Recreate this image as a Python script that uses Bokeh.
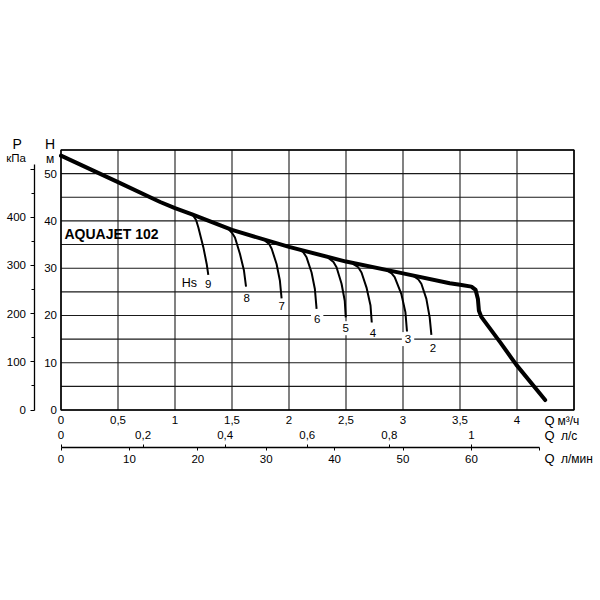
from bokeh.plotting import figure
from bokeh.models import LinearAxis, Range1d, FixedTicker, ColumnDataSource
from bokeh.embed import file_html
from bokeh.resources import INLINE
from bokeh.core.properties import value

FONT = "Liberation Sans"
KPA_PER_M = 9.81          # 1 m of water column in kPa
LS_PER_M3H = 1 / 3.6      # l/s per m3/h
LMIN_PER_M3H = 1000 / 60  # l/min per m3/h

# ---- data ----
# main pump curve: Q (m3/h) -> H (m)
q_main = [0.0, 0.5, 0.87, 1.0, 1.15, 1.5, 2.0, 2.5, 3.0, 3.41, 3.5, 3.6, 3.637, 3.657, 3.666, 3.687, 3.85, 3.993, 4.247]
h_main = [53.8, 48.2, 44.0, 42.7, 41.4, 38.1, 34.5, 31.4, 28.9, 26.8, 26.5, 26.1, 25.4, 23.5, 21.0, 19.7, 14.4, 9.6, 2.1]

# suction-lift curves Hs (m)
hs_names = ["9", "8", "7", "6", "5", "4", "3", "2"]
hs_q = [
    [1.147, 1.185, 1.205, 1.249, 1.278, 1.292],
    [1.468, 1.505, 1.526, 1.570, 1.605, 1.623],
    [1.789, 1.826, 1.848, 1.891, 1.920, 1.935],
    [2.081, 2.125, 2.154, 2.198, 2.227, 2.242],
    [2.343, 2.390, 2.417, 2.461, 2.489, 2.498],
    [2.562, 2.607, 2.636, 2.680, 2.715, 2.726],
    [2.855, 2.900, 2.927, 2.986, 3.021, 3.035],
    [3.088, 3.135, 3.161, 3.205, 3.234, 3.249],
]
hs_h = [
    [41.6, 40.2, 38.6, 34.4, 30.9, 28.6],
    [38.3, 37.3, 36.5, 33.0, 29.5, 26.1],
    [35.8, 35.1, 34.1, 30.9, 27.4, 23.6],
    [34.1, 33.4, 32.3, 29.1, 25.6, 21.4],
    [32.2, 31.3, 30.2, 26.7, 23.1, 19.6],
    [30.9, 30.2, 29.1, 25.9, 22.1, 18.5],
    [29.6, 28.9, 28.1, 24.5, 20.7, 16.6],
    [28.4, 27.6, 26.7, 23.5, 19.6, 15.9],
]
hs_label_q = [1.292, 1.628, 1.935, 2.247, 2.498, 2.737, 3.044, 3.263]
hs_label_h = [26.6, 23.6, 21.9, 19.3, 17.3, 16.3, 15.0, 13.2]

# axes ticks / labels
Q_MAX, H_MAX = 4.5, 55
h_ticks = [0, 10, 20, 30, 40, 50]
p_ticks = [0, 100, 200, 300, 400, 500]
p_minor = [50, 150, 250, 350, 450]
p_labels = ["0", "100", "200", "300", "400", ""]
m3h_ticks = [0, 0.5, 1, 1.5, 2, 2.5, 3, 3.5, 4]
m3h_labels = ["0", "0,5", "1", "1,5", "2", "2,5", "3", "3,5", "4"]
ls_ticks = [0, 0.2, 0.4, 0.6, 0.8, 1]
ls_labels = ["0", "0,2", "0,4", "0,6", "0,8", "1"]
lmin_ticks = [0, 10, 20, 30, 40, 50, 60, 70]
lmin_labels = ["0", "10", "20", "30", "40", "50", "60", ""]
grid_x = [0, 0.5, 1, 1.5, 2, 2.5, 3, 3.5, 4, 4.5]
grid_y = [0, 5, 10, 15, 20, 25, 30, 35, 40, 45, 50, 55]

# ---- layout: the frame fills the canvas; grid box placed by the ranges ----
W = H = 600
X0_PX, X_SCALE = 60.5, 114.0     # px of Q=0, px per m3/h
Y0_PX, Y_SCALE = 409.5, 4.727    # px of H=0, px per m
TICK_FONT = "11.5px"


def qx(px):
    return (px - X0_PX) / X_SCALE


def hy(py):
    return (Y0_PX - py) / Y_SCALE


xr = (qx(0), qx(W))
yr = (hy(H), hy(0))

p = figure(width=W, height=H, min_border=0,
           x_range=Range1d(*xr), y_range=Range1d(*yr),
           x_axis_location=None, y_axis_location=None,
           output_backend="svg", toolbar_location=None)
p.grid.visible = False
p.outline_line_color = None
p.background_fill_color = "white"
p.border_fill_color = "white"
p.extra_y_ranges = {"kpa": Range1d(yr[0] * KPA_PER_M, yr[1] * KPA_PER_M)}
p.extra_x_ranges = {"ls": Range1d(xr[0] * LS_PER_M3H, xr[1] * LS_PER_M3H),
                    "lmin": Range1d(xr[0] * LMIN_PER_M3H, xr[1] * LMIN_PER_M3H)}


def style_axis(ax, size=TICK_FONT):
    ax.major_label_text_font = FONT
    ax.major_label_text_font_size = size
    ax.major_label_text_color = "black"
    ax.axis_line_color = "black"
    ax.major_tick_line_color = "black"
    ax.minor_tick_line_color = "black"


# H axis (labels only, at Q=0)
h_axis = LinearAxis(fixed_location=0, ticker=FixedTicker(ticks=h_ticks), bounds=(0, H_MAX),
                    major_tick_out=0, major_tick_in=0, minor_tick_out=0, minor_tick_in=0,
                    major_label_standoff=4)
style_axis(h_axis)
h_axis.axis_line_color = None
p.add_layout(h_axis, "left")

# P axis (kPa)
p_axis = LinearAxis(y_range_name="kpa", fixed_location=qx(33.5),
                    ticker=FixedTicker(ticks=p_ticks, minor_ticks=p_minor),
                    major_tick_out=4, major_tick_in=0, minor_tick_out=3, minor_tick_in=0,
                    bounds=(0, 510), major_label_standoff=4,
                    major_label_overrides=dict(zip(p_ticks, p_labels)))
style_axis(p_axis)
p_axis.axis_line_width = 1.3
p.add_layout(p_axis, "left")

# Q m3/h
ax1 = LinearAxis(fixed_location=0, ticker=FixedTicker(ticks=m3h_ticks), bounds=(0, Q_MAX),
                 major_tick_out=0, major_tick_in=0, minor_tick_out=0, minor_tick_in=0,
                 major_label_standoff=6,
                 major_label_overrides=dict(zip(m3h_ticks, m3h_labels)))
style_axis(ax1)
ax1.axis_line_color = None
p.add_layout(ax1, "below")

# Q l/s
ax2 = LinearAxis(x_range_name="ls", fixed_location=hy(425), ticker=FixedTicker(ticks=ls_ticks),
                 major_tick_out=0, major_tick_in=0, minor_tick_out=0, minor_tick_in=0,
                 major_label_standoff=5,
                 major_label_overrides=dict(zip(ls_ticks, ls_labels)))
style_axis(ax2)
ax2.axis_line_color = None
p.add_layout(ax2, "below")

# Q l/min (with l/s ticks on the same line)
ax3 = LinearAxis(x_range_name="lmin", fixed_location=hy(447),
                 ticker=FixedTicker(ticks=lmin_ticks, minor_ticks=[t * 60 for t in ls_ticks]),
                 major_tick_out=3, major_tick_in=0, minor_tick_out=0, minor_tick_in=3,
                 bounds=(0, 70), major_label_standoff=4,
                 major_label_overrides=dict(zip(lmin_ticks, lmin_labels)))
style_axis(ax3)
ax3.axis_line_width = 1.3
p.add_layout(ax3, "below")

# grid and box
p.segment(x0=grid_x, y0=[0] * len(grid_x), x1=grid_x, y1=[H_MAX] * len(grid_x),
          line_color="#1a1a1a", line_width=1.1)
p.segment(x0=[0] * len(grid_y), y0=grid_y, x1=[Q_MAX] * len(grid_y), y1=grid_y,
          line_color="#1a1a1a", line_width=1.1)
p.quad(left=[0], right=[Q_MAX], bottom=[0], top=[H_MAX], fill_color=None,
       line_color="black", line_width=1.5)

# labels of suction curves
boxed = {"6", "5", "3"}
src_lab = ColumnDataSource(dict(
    x=hs_label_q, y=hs_label_h, t=hs_names,
    bg=["white" if n in boxed else None for n in hs_names]))
p.text(x="x", y="y", text="t", source=src_lab, text_font=value(FONT), text_font_size="11.5px",
       text_align="center", text_baseline="middle", text_color="black",
       background_fill_color="bg", padding=3)
p.text(x=[1.126], y=[26.8], text=["Hs"], text_font=value(FONT), text_font_size="12.5px",
       text_align="center", text_baseline="middle", text_color="black")

# suction curves
p.multi_line(xs=hs_q, ys=hs_h, line_color="black", line_width=2)
# main curve
p.line(q_main, h_main, line_color="black", line_width=4, line_join="round", line_cap="round")

p.text(x=[0.03], y=[37.3], text=["AQUAJET 102"], text_font=value(FONT), text_font_size="14px",
       text_font_style="bold", text_baseline="middle", text_align="left", text_color="black")


# axis titles, placed by pixel position
def lab(px, py, t, size, align="center"):
    p.text(x=[qx(px)], y=[hy(py)], text=[t], text_font=value(FONT), text_font_size=size,
           text_align=align, text_baseline="middle", text_color="black")


lab(16.7, 143, "P", "14px")
lab(15.5, 157, "кПа", "11.5px")
lab(49.5, 143.5, "H", "14px")
lab(49.5, 158, "м", "12px")
lab(544, 420.3, "Q", "13px", "left")
lab(557, 420.3, "м³/ч", "12px", "left")
lab(544, 435, "Q", "13px", "left")
lab(560.5, 435, "л/с", "12px", "left")
lab(544, 458.3, "Q", "13px", "left")
lab(560.5, 458.3, "л/мин", "12px", "left")

open("out.html", "w").write(file_html(p, INLINE))
